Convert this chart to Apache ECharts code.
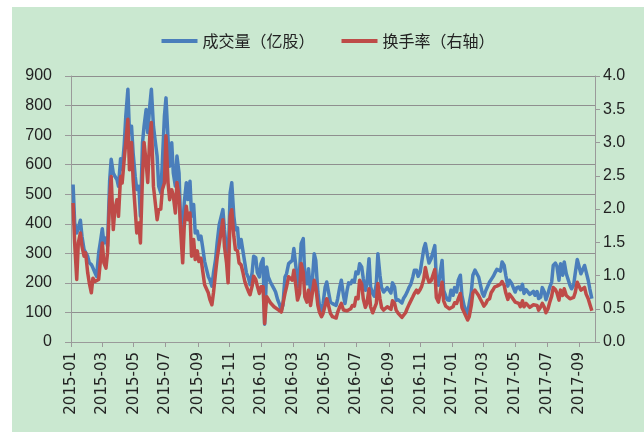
<!DOCTYPE html>
<html>
<head>
<meta charset="utf-8">
<script src="https://cdn.jsdelivr.net/npm/echarts@6/dist/echarts.min.js"></script>
<style>
    html, body { margin: 0; padding: 0; background: #fff; }
    #chart { position: absolute; left: 12px; top: 7px; width: 632px; height: 425px; }
</style>
</head>
<body>
<div id="chart"></div>
<script>
// two samples per week (Mon, Thu), first Monday 2015-01-05
const firstDay = [2015, 0, 5];
const seriesNames = ['成交量（亿股）', '换手率（右轴）'];

// 成交量 (亿股), one row per week
const volume = [
    533, 403, 369, 386, 412, 358, 313, 307, 290, 268,
    262, 251, 234, 222, 301, 335, 383, 335, 352, 324,
    544, 618, 572, 561, 550, 527, 620, 584, 668, 764,
    855, 708, 730, 640, 561, 516, 527, 426, 674, 730,
    787, 708, 800, 855, 730, 685, 629, 527, 505, 606,
    764, 826, 685, 595, 674, 572, 527, 629, 572, 403,
    380, 471, 539, 482, 544, 426, 465, 369, 375, 347,
    358, 324, 273, 251, 222, 211, 189, 234, 279, 335,
    397, 392, 448, 380, 313, 268, 505, 539, 426, 380,
    386, 318, 347, 313, 268, 234, 217, 194, 234, 290,
    285, 235, 220, 265, 282, 60, 254, 220, 203, 203,
    180, 169, 143, 130, 107, 124, 220, 231, 265, 271,
    276, 316, 254, 186, 243, 333, 350, 220, 197, 248,
    169, 197, 299, 276, 169, 124, 107, 130, 186, 203,
    164, 135, 130, 124, 124, 147, 186, 209, 158, 130,
    175, 200, 197, 209, 203, 237, 231, 265, 254, 215,
    175, 197, 282, 186, 164, 155, 197, 299, 226, 184,
    169, 169, 184, 186, 166, 200, 186, 141, 143, 143,
    132, 147, 158, 169, 186, 195, 220, 243, 243, 222,
    237, 271, 316, 333, 293, 267, 282, 278, 326, 214,
    192, 231, 276, 175, 155, 143, 141, 175, 158, 184,
    169, 209, 226, 158, 124, 109, 96, 130, 169, 226,
    243, 237, 220, 197, 166, 155, 175, 175, 203, 211,
    222, 233, 246, 243, 240, 271, 259, 226, 189, 209,
    199, 203, 169, 184, 186, 177, 195, 164, 177, 180,
    161, 157, 171, 158, 171, 147, 152, 184, 169, 143,
    164, 184, 203, 259, 267, 256, 209, 265, 226, 271,
    231, 237, 192, 180, 192, 231, 279, 276, 231, 243,
    259, 237, 209, 180, 147
];

// 换手率 (%), right axis
const turnover = [
    2.09, 1.49, 0.94, 1.49, 1.64, 1.44, 1.29, 1.34, 1.04, 0.89,
    0.74, 0.96, 0.91, 0.91, 0.94, 1.19, 1.49, 1.19, 1.11, 1.34,
    2.14, 2.49, 1.69, 1.99, 2.14, 1.89, 2.49, 2.39, 2.75, 3.00,
    3.35, 2.59, 3.00, 2.44, 1.99, 1.64, 1.79, 1.49, 2.49, 3.00,
    2.70, 2.40, 3.10, 3.30, 2.34, 2.34, 1.84, 1.99, 2.00, 2.29,
    2.39, 3.10, 2.39, 2.14, 2.29, 2.20, 1.94, 2.40, 2.19, 1.69,
    1.19, 1.74, 2.04, 1.84, 1.94, 1.29, 1.54, 1.24, 1.37, 1.21,
    1.26, 1.09, 0.86, 0.84, 0.74, 0.64, 0.56, 0.74, 1.04, 1.26,
    1.47, 1.44, 1.84, 1.44, 1.19, 0.89, 1.89, 1.99, 1.59, 1.39,
    1.37, 1.19, 1.16, 1.06, 0.91, 0.84, 0.76, 0.71, 0.84, 0.99,
    0.94, 0.84, 0.73, 0.83, 0.83, 0.28, 0.68, 0.68, 0.59, 0.60,
    0.53, 0.52, 0.49, 0.48, 0.45, 0.48, 0.73, 0.83, 0.98, 0.98,
    0.93, 1.08, 0.83, 0.63, 0.73, 1.18, 1.05, 0.68, 0.60, 0.78,
    0.55, 0.58, 0.93, 0.83, 0.55, 0.45, 0.38, 0.43, 0.55, 0.65,
    0.53, 0.43, 0.38, 0.38, 0.36, 0.45, 0.53, 0.58, 0.48, 0.48,
    0.47, 0.49, 0.50, 0.55, 0.54, 0.67, 0.65, 0.93, 0.87, 0.65,
    0.52, 0.58, 0.80, 0.53, 0.44, 0.47, 0.58, 0.88, 0.65, 0.52,
    0.48, 0.50, 0.53, 0.55, 0.49, 0.62, 0.58, 0.48, 0.43, 0.40,
    0.37, 0.38, 0.44, 0.50, 0.57, 0.58, 0.68, 0.73, 0.78, 0.74,
    0.79, 0.84, 0.95, 1.12, 0.97, 0.90, 0.92, 0.89, 1.09, 0.67,
    0.60, 0.73, 0.90, 0.62, 0.54, 0.51, 0.50, 0.53, 0.53, 0.59,
    0.58, 0.65, 0.73, 0.52, 0.45, 0.43, 0.33, 0.38, 0.55, 0.74,
    0.78, 0.77, 0.70, 0.65, 0.59, 0.54, 0.58, 0.63, 0.65, 0.74,
    0.79, 0.83, 0.84, 0.85, 0.87, 0.91, 0.85, 0.74, 0.64, 0.72,
    0.68, 0.67, 0.60, 0.60, 0.58, 0.53, 0.62, 0.53, 0.58, 0.57,
    0.52, 0.50, 0.56, 0.54, 0.55, 0.48, 0.53, 0.58, 0.52, 0.44,
    0.50, 0.59, 0.69, 0.82, 0.79, 0.74, 0.63, 0.78, 0.70, 0.80,
    0.70, 0.73, 0.65, 0.65, 0.67, 0.74, 0.90, 0.88, 0.78, 0.78,
    0.82, 0.72, 0.65, 0.57, 0.47
];

const leftTicks = { min: 0, max: 900, interval: 100 };
const rightTicks = { min: 0, max: 4, interval: 0.5 };

// sample k falls on Monday (even k) or Thursday (odd k) of week floor(k/2)
const days = volume.map(function (v, k) {
    return new Date(firstDay[0], firstDay[1], firstDay[2] + 7 * Math.floor(k / 2) + 3 * (k % 2));
});

const chart = echarts.init(document.getElementById('chart'));

const axisGray = '#9a9a9a';
const textColor = '#222';

const option = {
    backgroundColor: '#cae8d0',
    textStyle: { fontFamily: 'Liberation Sans, Noto Sans CJK SC, sans-serif' },
    legend: {
        top: 21,
        left: 'center',
        itemWidth: 36,
        itemHeight: 4,
        itemGap: 27,
        icon: 'rect',
        textStyle: { fontSize: 16, color: textColor, fontFamily: 'Noto Sans CJK SC' },
        data: seriesNames
    },
    grid: { left: 59, right: 49, top: 69, bottom: 90 },
    xAxis: {
        type: 'time',
        min: new Date(2015, 0, 1),
        max: new Date(2017, 9, 1),
        splitNumber: 12,
        axisLine: { lineStyle: { color: axisGray, width: 1 } },
        axisTick: { show: true, length: 5, lineStyle: { color: axisGray } },
        splitLine: { show: false },
        minorTick: { show: false },
        axisLabel: {
            rotate: 90,
            margin: 10,
            fontSize: 15,
            color: textColor,
            fontFamily: 'DejaVu Sans',
            formatter: '{yyyy}-{MM}'
        }
    },
    yAxis: [
        {
            type: 'value',
            min: leftTicks.min,
            max: leftTicks.max,
            interval: leftTicks.interval,
            axisLine: { show: true, lineStyle: { color: axisGray } },
            axisTick: { show: true, length: 6, lineStyle: { color: axisGray } },
            splitLine: { lineStyle: { color: '#8f8f8f', width: 1 } },
            axisLabel: { fontSize: 16, color: textColor, margin: 19 }
        },
        {
            type: 'value',
            min: rightTicks.min,
            max: rightTicks.max,
            interval: rightTicks.interval,
            axisLine: { show: true, lineStyle: { color: axisGray } },
            axisTick: { show: true, length: 5, lineStyle: { color: axisGray } },
            splitLine: { show: false },
            axisLabel: {
                fontSize: 16,
                color: textColor,
                margin: 8,
                formatter: function (v) { return v.toFixed(1); }
            }
        }
    ],
    series: [
        {
            name: seriesNames[0],
            type: 'line',
            yAxisIndex: 0,
            showSymbol: false,
            symbol: 'none',
            lineStyle: { color: '#4a7ebb', width: 3.5, join: 'round' },
            itemStyle: { color: '#4a7ebb' },
            data: days.map(function (d, k) { return [d, volume[k]]; })
        },
        {
            name: seriesNames[1],
            type: 'line',
            yAxisIndex: 1,
            showSymbol: false,
            symbol: 'none',
            lineStyle: { color: '#be4b48', width: 3.5, join: 'round' },
            itemStyle: { color: '#be4b48' },
            data: days.map(function (d, k) { return [d, turnover[k]]; })
        }
    ]
};

chart.setOption(option);
</script>
</body>
</html>
